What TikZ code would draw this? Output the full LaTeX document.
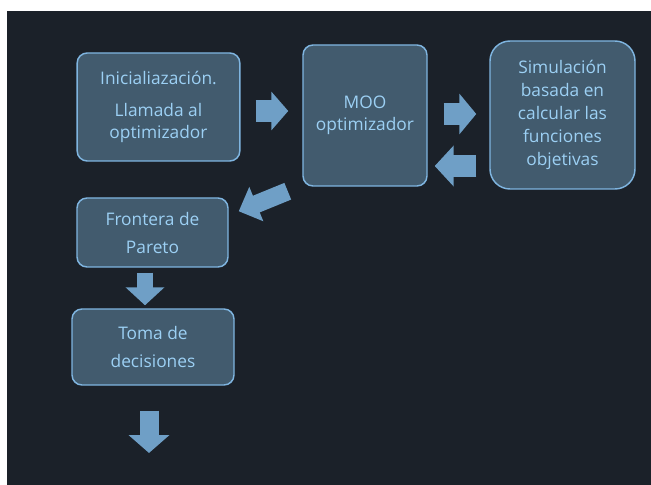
\documentclass[tikz,border=0pt]{standalone}
\usepackage{fontspec}
\setmainfont{Open Sans}
\usepackage{tikz}
\usetikzlibrary{arrows.meta}
\definecolor{bgdark}{HTML}{1B2129}
\definecolor{boxfill}{HTML}{425B6E}
\definecolor{boxline}{HTML}{7FB5E0}
\definecolor{boxtext}{HTML}{9CD0F4}
\definecolor{arrfill}{HTML}{6F9FC6}

\begin{document}
\begin{tikzpicture}[x=0.75pt, y=-0.75pt,
  box/.style={draw=boxline, fill=boxfill, line width=1.1pt, rounded corners=7.5pt, align=center,
    inner sep=0pt, text=boxtext, font=\fontsize{13}{16.5}\selectfont},
  bigarr/.style={draw=arrfill, line width=16.5pt, -{Triangle[width=28.5pt, length=12.75pt]}}]
  \fill[white] (0,0) rectangle (651,485);
  \fill[bgdark] (7,11) rectangle (651,485);
  \node[box, minimum width=122pt, minimum height=81pt] (init) at (158.5,107) {Inicialiazación.\\[8pt]Llamada al\\optimizador};
  \node[box, minimum width=93pt, minimum height=105.75pt] (moo) at (365,115.5) {MOO\\optimizador};
  \node[box, minimum width=108.75pt, minimum height=111pt, rounded corners=15pt,
    font=\fontsize{13}{17.25}\selectfont] (sim) at (562.5,115) {Simulación\\basada en\\calcular las\\funciones\\objetivas};
  \node[box, minimum width=113.25pt, minimum height=51.75pt] (front) at (152.5,232.5) {Frontera de\\[4.5pt]Pareto};
  \node[box, minimum width=121.5pt, minimum height=57pt] (toma) at (153,347) {Toma de\\[4.5pt]decisiones};
  \coordinate (out) at (149,453);
  \draw[bigarr] ([shift={(15,4)}]init.east) -- ([shift={(-14,-4.5)}]moo.west);
  \draw[bigarr, -{Triangle[width=30pt, length=12.75pt]}] ([shift={(16,-1.5)}]moo.east) -- ([shift={(-13,-1)}]sim.west);
  \draw[bigarr, -{Triangle[width=30pt, length=14.25pt]}] ([shift={(-13,51)}]sim.west) -- ([shift={(7,50.5)}]moo.east);
  \draw[bigarr, line width=13.5pt, -{Triangle[width=27pt, length=14.25pt]}] ([shift={(-14.5,4.5)}]moo.south west) -- ([shift={(10,14)}]front.north east);
  \draw[bigarr, line width=11.5pt, -{Triangle[width=28.5pt, length=13.5pt]}] ([shift={(-7.5,5)}]front.south) -- ([shift={(-8,-3)}]toma.north);
  \draw[bigarr, line width=14.25pt, -{Triangle[width=30pt, length=13.5pt]}] ([shift={(-4,25)}]toma.south) -- (out);
\end{tikzpicture}
\end{document}
